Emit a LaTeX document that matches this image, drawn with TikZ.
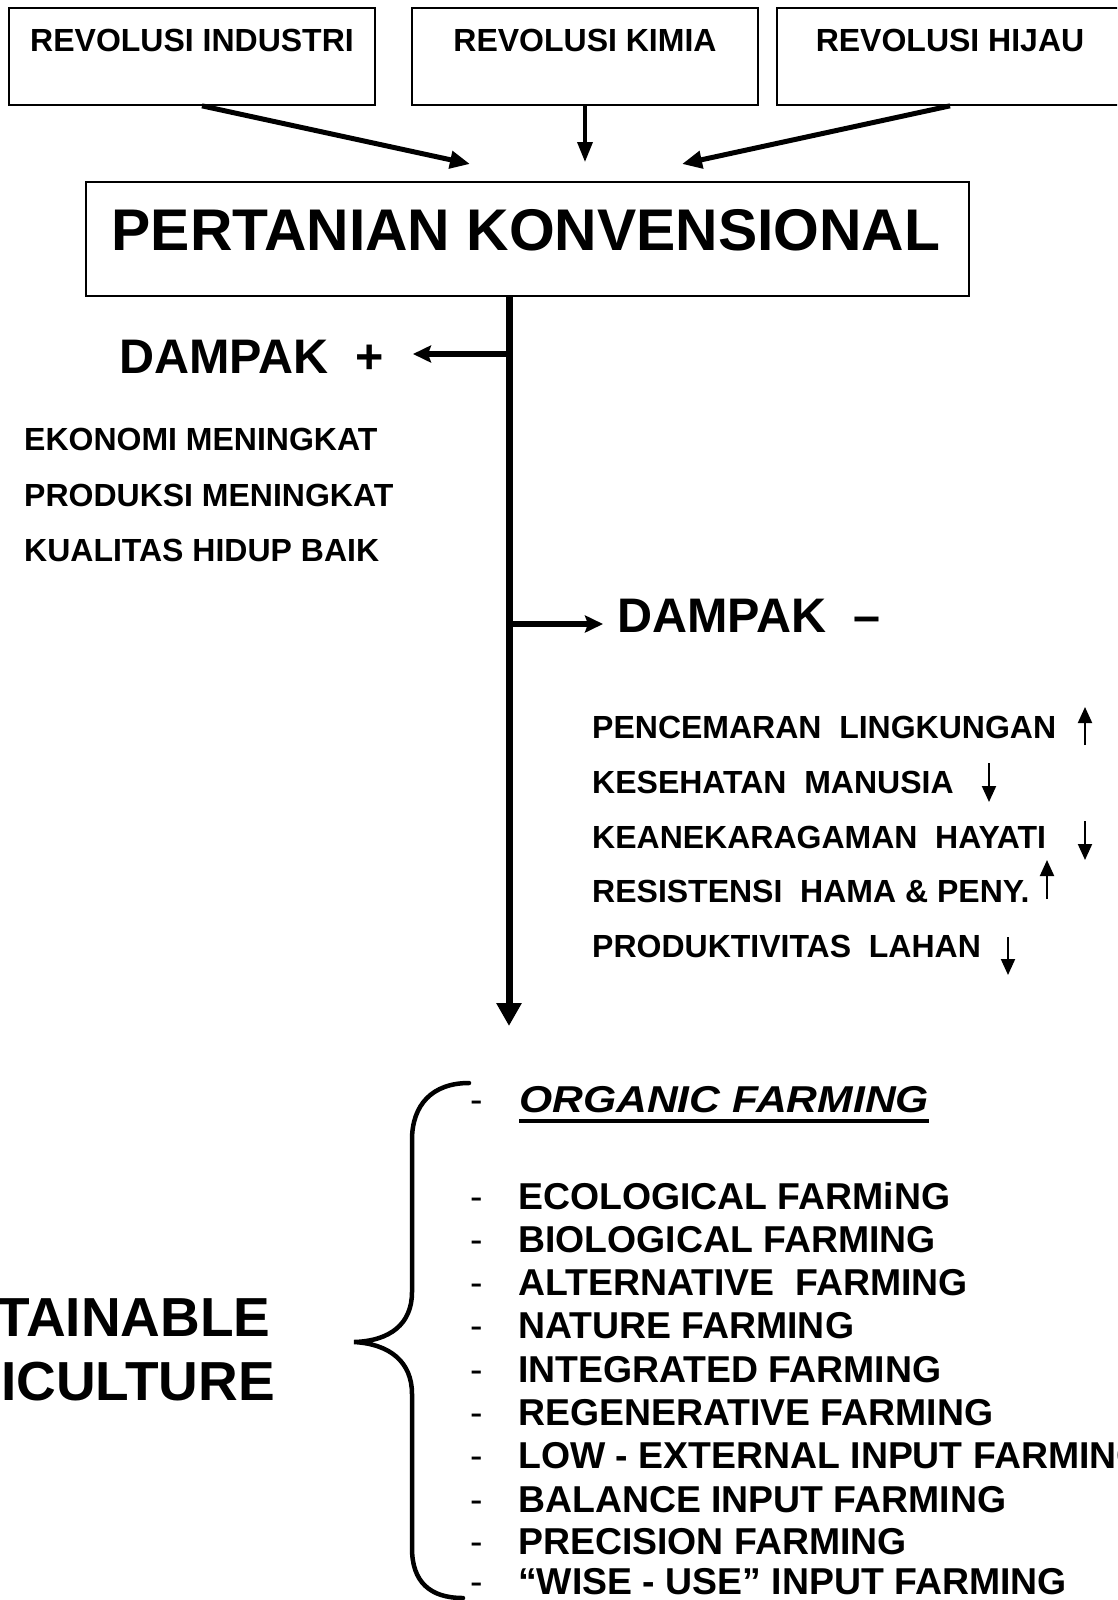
\documentclass[tikz,border=0pt]{standalone}
\usepackage{fontspec}
\usepackage{graphicx}
\setmainfont{Liberation Sans}
\usetikzlibrary{arrows.meta}
\tikzset{
  box/.style={draw, line width=1.7pt, inner sep=0pt},
  lbl/.style={inner sep=0pt, anchor=base, font=\fontsize{32pt}{36pt}\selectfont\bfseries},
  title/.style={inner sep=0pt, anchor=base, font=\fontsize{58.8pt}{64pt}\selectfont\bfseries},
  dampak/.style={inner sep=0pt, anchor=base west, font=\fontsize{48.5pt}{54pt}\selectfont\bfseries},
  item/.style={inner sep=0pt, anchor=base west, font=\fontsize{32pt}{36pt}\selectfont\bfseries},
  big/.style={inner sep=0pt, anchor=base, font=\fontsize{55pt}{62pt}\selectfont\bfseries},
  farm/.style={inner sep=0pt, anchor=base west, font=\fontsize{37.4pt}{42pt}\selectfont\bfseries},
  bullet/.style={inner sep=0pt, anchor=base west, font=\fontsize{37.4pt}{42pt}\selectfont},
  toparr/.style={line width=5pt, -{Triangle[length=20pt,width=17pt]}},
  midarr/.style={line width=3.5pt, -{Triangle[length=20pt,width=15pt]}},
  trunk/.style={line width=7pt, -{Triangle[length=23pt,width=24pt]}},
  sidearr/.style={line width=6.3pt, -{Stealth[length=18pt,width=17pt,inset=3pt]}},
  smallarr/.style={line width=2pt, -{Triangle[length=16pt,width=14pt]}},
  bracestyle/.style={line width=4.5pt, line cap=round},
}
\begin{document}
\begin{tikzpicture}[x=1pt,y=-1pt]
\useasboundingbox (0,0) rectangle (1117,1600);
\clip (0,0) rectangle (1117,1600);

% top boxes
\node[box, minimum width=366pt, minimum height=97pt] (b1) at (192,56.5) {};
\node[box, minimum width=346pt, minimum height=97pt] (b2) at (585,56.5) {};
\node[box, minimum width=346pt, minimum height=97pt] (b3) at (950,56.5) {};
\node[lbl] (t1) at (192,52) {REVOLUSI INDUSTRI};
\node[lbl] (t2) at (585,52) {REVOLUSI KIMIA};
\node[lbl] (t3) at (950,52) {REVOLUSI HIJAU};

% main box
\node[box, minimum width=883pt, minimum height=114pt] (main) at (527.5,239) {};
\node[title] (ttl) at (526,250) {PERTANIAN KONVENSIONAL};

% top arrows
\coordinate (tip1) at (470,164);
\coordinate (tip2) at (585,162);
\coordinate (tip3) at (682,164);
\draw[toparr] ([xshift=10pt]b1.south) -- (tip1);
\draw[midarr] (b2.south) -- (tip2);
\draw[toparr] (b3.south) -- (tip3);

% trunk
\coordinate (vx) at (509,0);
\coordinate (vend) at (509,1026);
\coordinate (j1) at (509,354);
\coordinate (j2) at (509,624);
\coordinate (tplus) at (413,354);
\coordinate (tminus) at (603,624);
\draw[trunk] (main.south -| vx) -- (vend);
\draw[sidearr] (j1) -- (tplus);
\draw[sidearr] (j2) -- (tminus);

% dampak +
\node[dampak] (dplus) at (119,373) {DAMPAK\ \ +};
\node[item] (p1) at (24,450) {EKONOMI MENINGKAT};
\node[item] (p2) at (24,506) {PRODUKSI MENINGKAT};
\node[item] (p3) at (24,561) {KUALITAS HIDUP BAIK};

% dampak -
\node[dampak] (dminus) at (617,632) {DAMPAK\ \ –};
\node[item] (m1) at (592,738) {PENCEMARAN\ \ LINGKUNGAN};
\node[item] (m2) at (592,793) {KESEHATAN\ \ MANUSIA};
\node[item] (m3) at (592,848) {KEANEKARAGAMAN\ \ HAYATI};
\node[item] (m4) at (592,902) {RESISTENSI\ \ HAMA \& PENY.};
\node[item] (m5) at (592,957) {PRODUKTIVITAS\ \ LAHAN};

\coordinate (a1s) at (1085,745); \coordinate (a1e) at (1085,707);
\coordinate (a2s) at (989,763);  \coordinate (a2e) at (989,802);
\coordinate (a3s) at (1085,821); \coordinate (a3e) at (1085,860);
\coordinate (a4s) at (1047,899); \coordinate (a4e) at (1047,860);
\coordinate (a5s) at (1008,937); \coordinate (a5e) at (1008,975);
\draw[smallarr] (a1s) -- (a1e);
\draw[smallarr] (a2s) -- (a2e);
\draw[smallarr] (a3s) -- (a3e);
\draw[smallarr] (a4s) -- (a4e);
\draw[smallarr] (a5s) -- (a5e);

% sustainable agriculture
\node[big] (sa1) at (77,1336) {SUSTAINABLE};
\node[big] (sa2) at (77,1400) {AGRICULTURE};

% brace
\draw[bracestyle] (469,1083) .. controls (432,1083) and (412,1105) .. (412,1140)
  -- (412,1292) .. controls (412,1324) and (390,1341) .. (354,1342)
  .. controls (390,1344) and (412,1362) .. (412,1394)
  -- (412,1548) .. controls (412,1582) and (430,1598) .. (463,1598);

% list
\node[bullet] (d0) at (470,1112) {-};
\node[farm, font=\fontsize{37.4pt}{42pt}\selectfont\bfseries\itshape] (org) at (519,1112) {\scalebox{1.14}[1]{ORGANIC FARMING}};
\draw[line width=4.5pt] ([yshift=-9pt]org.base west) -- ([yshift=-9pt]org.base east);

\foreach \y/\t [count=\i] in {
  1209/ECOLOGICAL FARMiNG,
  1252/BIOLOGICAL FARMING,
  1295/ALTERNATIVE\ \ FARMING,
  1338/NATURE FARMING,
  1382/INTEGRATED FARMING,
  1425/REGENERATIVE FARMING,
  1468/LOW - EXTERNAL INPUT FARMING,
  1512/BALANCE INPUT FARMING,
  1554/PRECISION FARMING,
  1594/“WISE - USE” INPUT FARMING}{
  \node[bullet] (d\i) at (470,\y) {-};
  \node[farm] (f\i) at (518,\y) {\t};
}
\end{tikzpicture}
\end{document}
